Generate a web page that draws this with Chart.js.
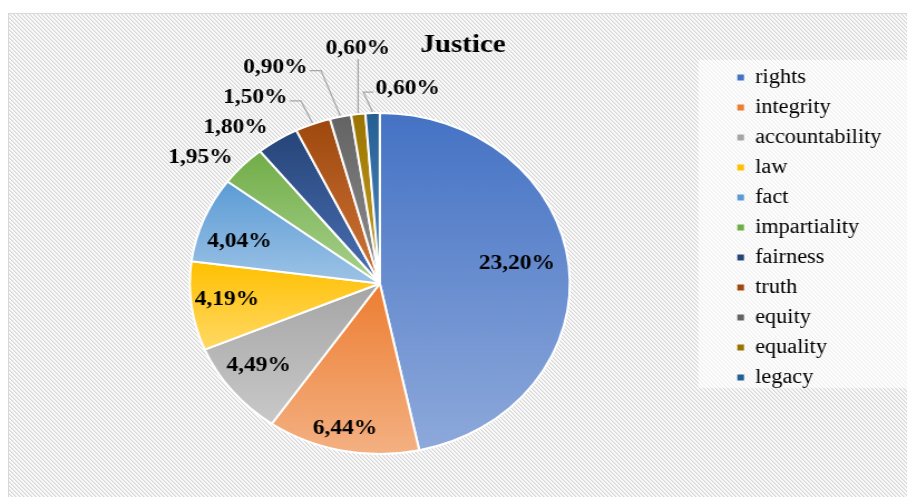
<!DOCTYPE html>
<html>
<head>
<meta charset="utf-8">
<script src="https://cdn.jsdelivr.net/npm/chart.js@4.4.1/dist/chart.umd.min.js"></script>
<style>
  html, body { margin: 0; padding: 0; background: #fff; overflow: hidden; }
  #frame {
    position: absolute; left: 8px; top: 13px; width: 940px; height: 520px;
    border: 1px solid #d9d9d9; background-color: #ececec;
  }
  #chart { position: absolute; left: 0; top: 0; }
</style>
</head>
<body>
<div id="frame"></div>
<!-- drawn narrower and stretched sideways, like the source picture -->
<canvas id="chart" width="814" height="497" style="width:907px;height:497px"></canvas>
<script>
const labels = ['rights', 'integrity', 'accountability', 'law', 'fact', 'impartiality',
  'fairness', 'truth', 'equity', 'equality', 'legacy']
const shares = [23.20, 6.44, 4.49, 4.19, 4.04, 1.95, 1.80, 1.50, 0.90, 0.60, 0.60]

const topColors = ['#4472C4', '#ED7D31', '#A5A5A5', '#FFC000', '#5B9BD5', '#70AD47',
  '#264478', '#9E480E', '#636363', '#997300', '#255E91']
const bottomColors = ['#8EA9DB', '#F4B183', '#C9C9C9', '#FFD966', '#9DC3E6', '#A9D18E',
  '#4A70B4', '#CF7538', '#8E8E8E', '#C9A227', '#4F8AC4']

// where each value label sits: share of the radius, turn in degrees, leader line or not
const labelRadius = [0.73, 0.87, 0.80, 0.81, 0.78, 1.20, 1.19, 1.27, 1.38, 1.38, 1.155]
const labelShift = [-3, 0.8, 1.9, 0.8, -3.6, -5.7, -7.1, -10.4, -11.5, 1.7, 9.5]
const labelLeader = [0, 0, 0, 0, 0, 0, 0, 1, 1, 1, 1]

const serif = '"Liberation Serif", "Times New Roman", serif'
Chart.defaults.font.family = serif

// fine diagonal hatch behind the chart, one 4x4 tile
const hatch = document.createElement('canvas')
hatch.width = hatch.height = 4
const hctx = hatch.getContext('2d')
for (let px = 0; px < 4; px++) {
  for (let py = 0; py < 4; py++) {
    const d = ((px - py) % 4 + 4) % 4
    hctx.fillStyle = d === 0 ? '#d9d9d9' : d === 1 ? '#e9e9e9' : '#f9f9f9'
    hctx.fillRect(px, py, 1, 1)
  }
}
document.getElementById('frame').style.backgroundImage = 'url(' + hatch.toDataURL() + ')'

const fmt = v => v.toFixed(2).replace('.', ',') + '%'

// each slice fades from its colour at the top to a lighter tint at the bottom
const sliceFill = ctx => {
  const i = ctx.dataIndex
  const area = ctx.chart.chartArea
  if (i === undefined) return topColors[0]
  if (!area) return topColors[i]
  const cx = (area.left + area.right) / 2
  const cy = (area.top + area.bottom) / 2
  const r = Math.min(area.right - area.left, area.bottom - area.top) / 2
  const total = shares.reduce((a, b) => a + b, 0)
  const before = shares.slice(0, i).reduce((a, b) => a + b, 0)
  const a0 = before / total * 2 * Math.PI - Math.PI / 2
  const a1 = (before + shares[i]) / total * 2 * Math.PI - Math.PI / 2
  let ymin = cy, ymax = cy
  for (let k = 0; k <= 40; k++) {
    const y = cy + r * Math.sin(a0 + (a1 - a0) * k / 40)
    ymin = Math.min(ymin, y)
    ymax = Math.max(ymax, y)
  }
  const g = ctx.chart.ctx.createLinearGradient(0, ymin, 0, ymax)
  g.addColorStop(0, topColors[i])
  g.addColorStop(1, bottomColors[i])
  return g
}

const legendPanel = {
  id: 'legendPanel',
  beforeDraw: chart => {
    const lg = chart.legend
    const boxes = lg.legendHitBoxes
    if (!boxes || !boxes.length) return
    const last = boxes[boxes.length - 1]
    const top = boxes[0].top - 7.5
    const bottom = last.top + last.height + 0.5
    const c = chart.ctx
    c.save()
    c.fillStyle = 'rgba(255,255,255,0.62)'
    c.fillRect(lg.left - 25, top, chart.width, bottom - top)
    c.restore()
  }
}

const sliceLabels = {
  id: 'sliceLabels',
  afterDatasetsDraw: chart => {
    const c = chart.ctx
    const arcs = chart.getDatasetMeta(0).data
    c.save()
    c.font = 'bold 21px ' + serif
    c.textAlign = 'center'
    c.textBaseline = 'middle'
    arcs.forEach((arc, i) => {
      const { x, y, startAngle, endAngle, outerRadius } =
        arc.getProps(['x', 'y', 'startAngle', 'endAngle', 'outerRadius'], true)
      const mid = (startAngle + endAngle) / 2
      const a = mid + labelShift[i] * Math.PI / 180
      const lx = x + Math.cos(a) * outerRadius * labelRadius[i]
      const ly = y + Math.sin(a) * outerRadius * labelRadius[i]
      const text = fmt(shares[i])
      if (labelLeader[i]) {
        const px = x + Math.cos(mid) * (outerRadius + 1)
        const py = y + Math.sin(mid) * (outerRadius + 1)
        const tw = c.measureText(text).width
        c.strokeStyle = '#a6a6a6'
        c.lineWidth = 1.3
        c.beginPath()
        if (Math.abs(lx - px) < tw / 2) {
          c.moveTo(px, ly + 10)
          c.lineTo(px, py)
        } else if (lx < px) {
          const ax = lx + tw / 2 + 2, ay = ly + 3
          c.moveTo(ax, ay)
          c.lineTo(ax + 10, ay)
          c.lineTo(px, py)
        } else {
          const ax = lx - tw / 2 - 2, ay = ly + 4
          c.moveTo(ax, ay)
          c.lineTo(ax - 9, ay)
          c.lineTo(px, py)
        }
        c.stroke()
      }
      c.fillStyle = '#000'
      c.fillText(text, lx, ly)
    })
    c.restore()
  }
}

new Chart(document.getElementById('chart'), {
  type: 'pie',
  data: {
    labels,
    datasets: [{
      data: shares,
      backgroundColor: sliceFill,
      borderColor: '#ffffff',
      borderWidth: 2
    }]
  },
  options: {
    responsive: false,
    animation: false,
    events: [],
    layout: { padding: { left: 30, right: 13, top: 0, bottom: 42 } },
    plugins: {
      title: {
        display: true,
        text: 'Justice',
        color: '#000',
        font: { size: 26, weight: 'bold' },
        padding: { top: 29.4, bottom: 51.4 }
      },
      legend: {
        position: 'right',
        labels: {
          boxWidth: 6,
          boxHeight: 6,
          padding: 10,
          color: '#262626',
          font: { size: 20 },
          generateLabels: () => labels.map((t, i) => ({
            text: t,
            fillStyle: topColors[i],
            strokeStyle: topColors[i],
            lineWidth: 0,
            hidden: false,
            index: i
          }))
        }
      },
      tooltip: { enabled: false }
    }
  },
  plugins: [legendPanel, sliceLabels]
})
</script>
</body>
</html>
